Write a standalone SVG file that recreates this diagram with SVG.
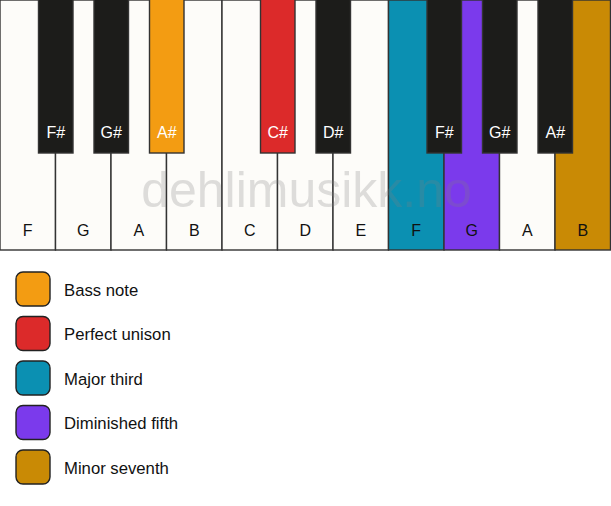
<svg xmlns="http://www.w3.org/2000/svg" width="611" height="506" viewBox="0 0 611 506">
<style>
.w{fill:#fdfcf9;stroke:#333;stroke-width:1.4}
.b{fill:#1c1c1a;stroke:#333;stroke-width:1.4}
.t{font-family:"Liberation Sans",Arial,sans-serif;font-size:16px;text-anchor:middle}
.tw{fill:#111}
.tb{fill:#fff}
.lg{stroke:#222;stroke-width:1.4}
.lt{font-family:"Liberation Sans",Arial,sans-serif;font-size:16.7px;fill:#111}
.wm{font-family:"Liberation Sans",Arial,sans-serif;font-size:50px;fill:#808080;opacity:0.25;text-anchor:middle}
</style>
<rect width="611" height="506" fill="#fff"/>
<g id="white-keys">
<g id="wk-F1"><rect class="w" x="0" y="0" width="55.5" height="250"/><text class="t tw" x="27.75" y="236">F</text></g>
<g id="wk-G1"><rect class="w" x="55.5" y="0" width="55.5" height="250"/><text class="t tw" x="83.25" y="236">G</text></g>
<g id="wk-A1"><rect class="w" x="111" y="0" width="55.5" height="250"/><text class="t tw" x="138.75" y="236">A</text></g>
<g id="wk-B1"><rect class="w" x="166.5" y="0" width="55.5" height="250"/><text class="t tw" x="194.25" y="236">B</text></g>
<g id="wk-C"><rect class="w" x="222" y="0" width="55.5" height="250"/><text class="t tw" x="249.75" y="236">C</text></g>
<g id="wk-D"><rect class="w" x="277.5" y="0" width="55.5" height="250"/><text class="t tw" x="305.25" y="236">D</text></g>
<g id="wk-E"><rect class="w" x="333" y="0" width="55.5" height="250"/><text class="t tw" x="360.75" y="236">E</text></g>
<g id="wk-F2"><rect class="w" x="388.5" y="0" width="55.5" height="250" style="fill:#0b90b2"/><text class="t tw" x="416.25" y="236">F</text></g>
<g id="wk-G2"><rect class="w" x="444" y="0" width="55.5" height="250" style="fill:#7b3aec"/><text class="t tw" x="471.75" y="236">G</text></g>
<g id="wk-A2"><rect class="w" x="499.5" y="0" width="55.5" height="250"/><text class="t tw" x="527.25" y="236">A</text></g>
<g id="wk-B2"><rect class="w" x="555" y="0" width="55.5" height="250" style="fill:#c98a05"/><text class="t tw" x="582.75" y="236">B</text></g>
</g>
<text class="wm" x="306.5" y="207">dehlimusikk.no</text>
<g id="black-keys">
<g id="bk-Fs1"><rect class="b" x="38.5" y="-1" width="34.5" height="154"/><text class="t tb" x="55.75" y="138">F#</text></g>
<g id="bk-Gs1"><rect class="b" x="94" y="-1" width="34.5" height="154"/><text class="t tb" x="111.25" y="138">G#</text></g>
<g id="bk-As1"><rect class="b" x="149.5" y="-1" width="34.5" height="154" style="fill:#f39c12"/><text class="t tb" x="166.75" y="138">A#</text></g>
<g id="bk-Cs"><rect class="b" x="260.5" y="-1" width="34.5" height="154" style="fill:#dc2a2a"/><text class="t tb" x="277.75" y="138">C#</text></g>
<g id="bk-Ds"><rect class="b" x="316" y="-1" width="34.5" height="154"/><text class="t tb" x="333.25" y="138">D#</text></g>
<g id="bk-Fs2"><rect class="b" x="427" y="-1" width="34.5" height="154"/><text class="t tb" x="444.25" y="138">F#</text></g>
<g id="bk-Gs2"><rect class="b" x="482.5" y="-1" width="34.5" height="154"/><text class="t tb" x="499.75" y="138">G#</text></g>
<g id="bk-As2"><rect class="b" x="538" y="-1" width="34.5" height="154"/><text class="t tb" x="555.25" y="138">A#</text></g>
</g>
<g id="legend">
<g id="lg-bass"><rect class="lg" x="16" y="272" width="34" height="34" rx="7" fill="#f39c12"/><text class="lt" x="64" y="295.5">Bass note</text></g>
<g id="lg-unison"><rect class="lg" x="16" y="316.5" width="34" height="34" rx="7" fill="#dc2a2a"/><text class="lt" x="64" y="340">Perfect unison</text></g>
<g id="lg-third"><rect class="lg" x="16" y="361" width="34" height="34" rx="7" fill="#0b90b2"/><text class="lt" x="64" y="384.5">Major third</text></g>
<g id="lg-fifth"><rect class="lg" x="16" y="405.5" width="34" height="34" rx="7" fill="#7b3aec"/><text class="lt" x="64" y="429">Diminished fifth</text></g>
<g id="lg-seventh"><rect class="lg" x="16" y="450" width="34" height="34" rx="7" fill="#c98a05"/><text class="lt" x="64" y="473.5">Minor seventh</text></g>
</g>
<g id="connectors"/>
</svg>
